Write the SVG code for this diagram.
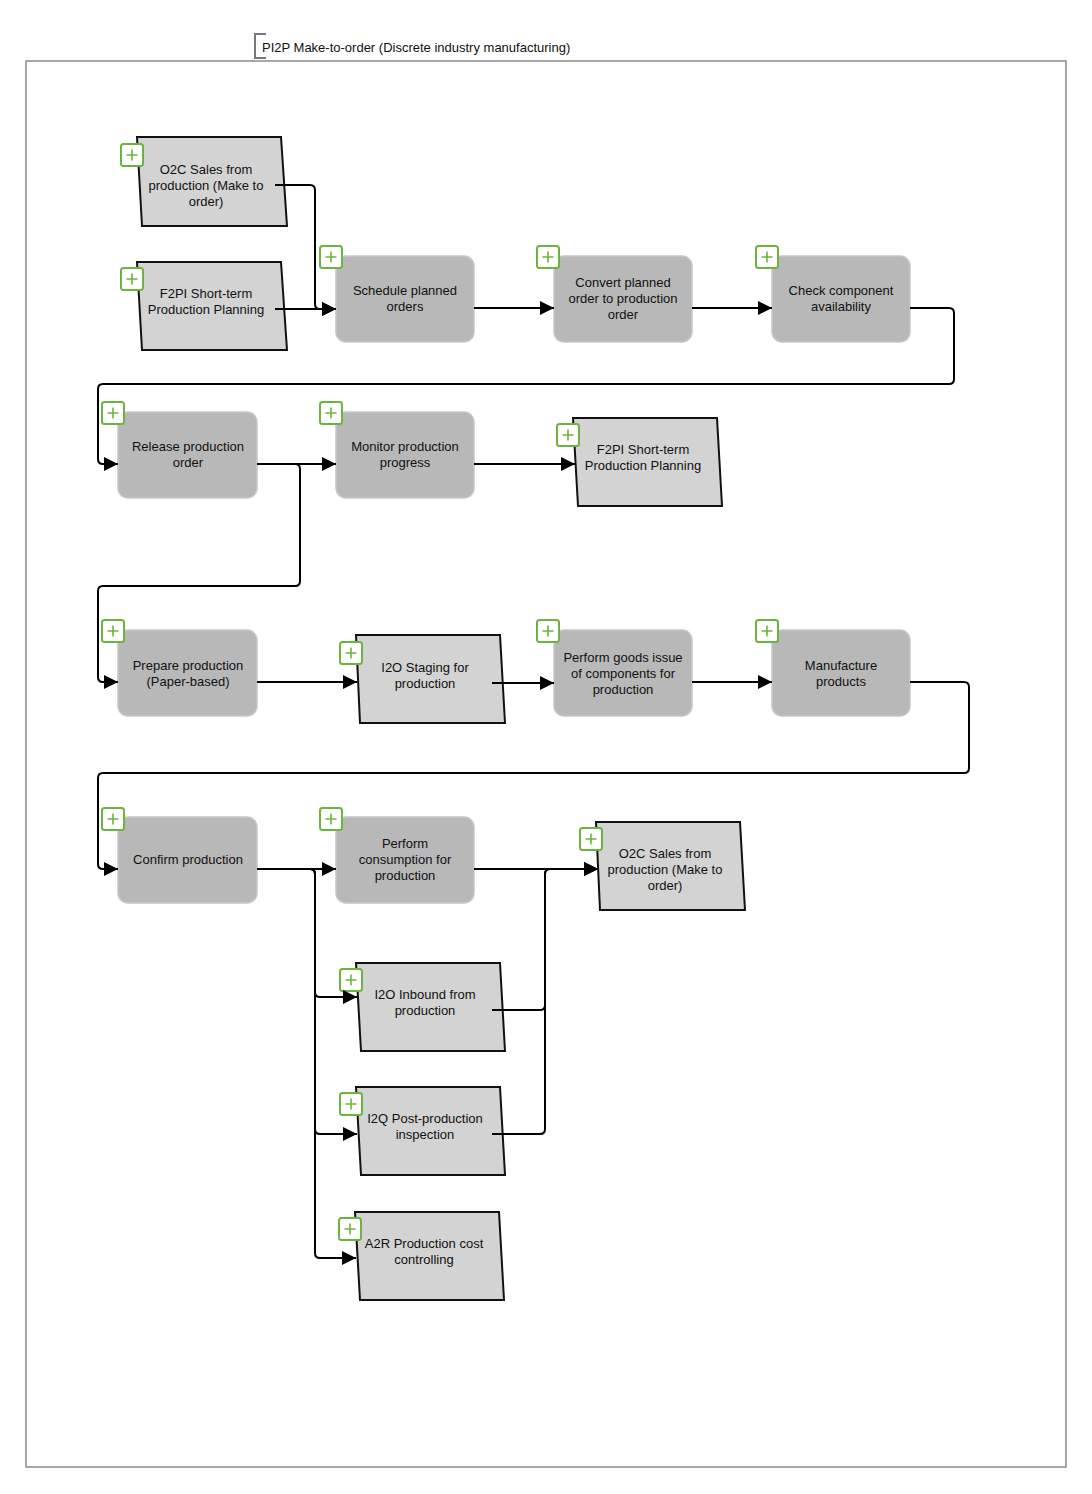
<svg xmlns="http://www.w3.org/2000/svg" width="1092" height="1494" viewBox="0 0 1092 1494">
<defs>
<style>
.frame{fill:none;stroke:#8a8a8a;stroke-width:1.5}
.title{font-family:"Liberation Sans",Arial,sans-serif;font-size:13px;fill:#111}
.task{fill:#b8b8b8;stroke:#c6c6c6;stroke-width:1.5}
.ext{fill:#d3d3d3;stroke:#111;stroke-width:2}
.lbl{font-family:"Liberation Sans",Arial,sans-serif;font-size:13px;fill:#111;text-anchor:middle}
.conn path{fill:none;stroke:#000;stroke-width:2;marker-end:url(#arr)}
</style>
<marker id="arr" markerUnits="userSpaceOnUse" markerWidth="16" markerHeight="14" refX="14" refY="7" orient="auto"><path d="M0,0 L14,7 L0,14 Z" fill="#000"/></marker>
<symbol id="pl" overflow="visible"><rect x="0" y="0" width="22" height="22" rx="2.5" fill="#fff" stroke="#6db33f" stroke-width="2"/><path d="M11,5.5 V16.5 M5.5,11 H16.5" stroke="#6db33f" stroke-width="1.6" fill="none"/></symbol>
</defs>
<rect width="1092" height="1494" fill="#fff"/>
<rect class="frame" x="26" y="61" width="1040" height="1406"/>
<path d="M266,34 H255 V58 H266" fill="none" stroke="#777" stroke-width="2"/>
<text class="title" x="262" y="52">PI2P Make-to-order (Discrete industry manufacturing)</text>

<g id="n-o2c-top">
<polygon class="ext" points="137,137 281,137 287,226 142,226"/>
<text class="lbl" x="206" y="174">O2C Sales from</text><text class="lbl" x="206" y="190">production (Make to</text><text class="lbl" x="206" y="206">order)</text>
<use href="#pl" x="121" y="144"/>
</g>
<g id="n-f2pi-top">
<polygon class="ext" points="137,262 281,262 287,350 142,350"/>
<text class="lbl" x="206" y="298">F2PI Short-term</text><text class="lbl" x="206" y="314">Production Planning</text>
<use href="#pl" x="121" y="268"/>
</g>
<g id="n-schedule">
<rect class="task" x="336" y="256" width="138" height="86" rx="10"/>
<text class="lbl" x="405" y="295">Schedule planned</text><text class="lbl" x="405" y="311">orders</text>
<use href="#pl" x="320" y="246"/>
</g>
<g id="n-convert">
<rect class="task" x="554" y="256" width="138" height="86" rx="10"/>
<text class="lbl" x="623" y="287">Convert planned</text><text class="lbl" x="623" y="303">order to production</text><text class="lbl" x="623" y="319">order</text>
<use href="#pl" x="537" y="246"/>
</g>
<g id="n-check">
<rect class="task" x="772" y="256" width="138" height="86" rx="10"/>
<text class="lbl" x="841" y="295">Check component</text><text class="lbl" x="841" y="311">availability</text>
<use href="#pl" x="756" y="246"/>
</g>
<g id="n-release">
<rect class="task" x="118" y="412" width="139" height="86" rx="10"/>
<text class="lbl" x="188" y="451">Release production</text><text class="lbl" x="188" y="467">order</text>
<use href="#pl" x="102" y="402"/>
</g>
<g id="n-monitor">
<rect class="task" x="336" y="412" width="138" height="86" rx="10"/>
<text class="lbl" x="405" y="451">Monitor production</text><text class="lbl" x="405" y="467">progress</text>
<use href="#pl" x="320" y="402"/>
</g>
<g id="n-f2pi-mid">
<polygon class="ext" points="573,418 717,418 722,506 578,506"/>
<text class="lbl" x="643" y="454">F2PI Short-term</text><text class="lbl" x="643" y="470">Production Planning</text>
<use href="#pl" x="557" y="424"/>
</g>
<g id="n-prepare">
<rect class="task" x="118" y="630" width="139" height="86" rx="10"/>
<text class="lbl" x="188" y="670">Prepare production</text><text class="lbl" x="188" y="686">(Paper-based)</text>
<use href="#pl" x="102" y="620"/>
</g>
<g id="n-staging">
<polygon class="ext" points="356,635 500,635 505,723 360,723"/>
<text class="lbl" x="425" y="672">I2O Staging for</text><text class="lbl" x="425" y="688">production</text>
<use href="#pl" x="340" y="642"/>
</g>
<g id="n-goods">
<rect class="task" x="554" y="630" width="138" height="86" rx="10"/>
<text class="lbl" x="623" y="662">Perform goods issue</text><text class="lbl" x="623" y="678">of components for</text><text class="lbl" x="623" y="694">production</text>
<use href="#pl" x="537" y="620"/>
</g>
<g id="n-manufacture">
<rect class="task" x="772" y="630" width="138" height="86" rx="10"/>
<text class="lbl" x="841" y="670">Manufacture</text><text class="lbl" x="841" y="686">products</text>
<use href="#pl" x="756" y="620"/>
</g>
<g id="n-confirm">
<rect class="task" x="118" y="817" width="139" height="86" rx="10"/>
<text class="lbl" x="188" y="864">Confirm production</text>
<use href="#pl" x="102" y="808"/>
</g>
<g id="n-consumption">
<rect class="task" x="336" y="817" width="138" height="86" rx="10"/>
<text class="lbl" x="405" y="848">Perform</text><text class="lbl" x="405" y="864">consumption for</text><text class="lbl" x="405" y="880">production</text>
<use href="#pl" x="320" y="808"/>
</g>
<g id="n-o2c-bottom">
<polygon class="ext" points="596,822 740,822 745,910 600,910"/>
<text class="lbl" x="665" y="858">O2C Sales from</text><text class="lbl" x="665" y="874">production (Make to</text><text class="lbl" x="665" y="890">order)</text>
<use href="#pl" x="580" y="828"/>
</g>
<g id="n-inbound">
<polygon class="ext" points="356,963 500,963 505,1051 361,1051"/>
<text class="lbl" x="425" y="999">I2O Inbound from</text><text class="lbl" x="425" y="1015">production</text>
<use href="#pl" x="340" y="969"/>
</g>
<g id="n-inspection">
<polygon class="ext" points="356,1087 500,1087 505,1175 361,1175"/>
<text class="lbl" x="425" y="1123">I2Q Post-production</text><text class="lbl" x="425" y="1139">inspection</text>
<use href="#pl" x="340" y="1093"/>
</g>
<g id="n-costctrl">
<polygon class="ext" points="355,1212 499,1212 504,1300 360,1300"/>
<text class="lbl" x="424" y="1248">A2R Production cost</text><text class="lbl" x="424" y="1264">controlling</text>
<use href="#pl" x="339" y="1218"/>
</g>

<g id="connectors" class="conn">
<path d="M275,185 H310 Q315,185 315,190 V304 Q315,309 320,309 H336"/>
<path d="M275,309 H336"/>
<path d="M474,308 H554"/>
<path d="M692,308 H772"/>
<path d="M910,308 H949 Q954,308 954,313 V379 Q954,384 949,384 H103 Q98,384 98,389 V459 Q98,464 103,464 H118"/>
<path d="M257,464 H336"/>
<path d="M257,464 H295 Q300,464 300,469 V581 Q300,586 295,586 H103 Q98,586 98,591 V677 Q98,682 103,682 H118"/>
<path d="M474,464 H575"/>
<path d="M257,682 H357"/>
<path d="M492,683 H554"/>
<path d="M692,682 H772"/>
<path d="M910,682 H964 Q969,682 969,687 V768 Q969,773 964,773 H103 Q98,773 98,778 V864 Q98,869 103,869 H118"/>
<path d="M257,869 H336"/>
<path d="M257,869 H310 Q315,869 315,874 V992 Q315,997 320,997 H357"/>
<path d="M257,869 H310 Q315,869 315,874 V1129 Q315,1134 320,1134 H357"/>
<path d="M257,869 H310 Q315,869 315,874 V1253 Q315,1258 320,1258 H356"/>
<path d="M474,869 H598"/>
<path d="M492,1010 H540 Q545,1010 545,1005 V874 Q545,869 550,869 H598"/>
<path d="M492,1134 H540 Q545,1134 545,1129 V874 Q545,869 550,869 H598"/>
</g>
</svg>
